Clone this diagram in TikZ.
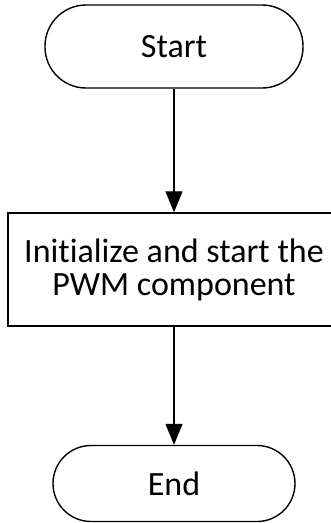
\documentclass[tikz,border=0pt]{standalone}
\usepackage{fontspec}
\setmainfont{Carlito}[Ligatures=NoCommon]
\usetikzlibrary{arrows.meta}
\begin{document}
\begin{tikzpicture}[
  terminal/.style={draw=black, line width=1.4pt, fill=white, rounded corners=#1, inner sep=0pt, font=\fontsize{34}{40}\selectfont},
  process/.style={draw=black, line width=1.4pt, fill=white, inner sep=0pt, align=center, font=\fontsize{34}{33}\selectfont},
  flow/.style={line width=1.2pt, -{Triangle[length=21pt,width=17pt]}}
]
\useasboundingbox[fill=white] (0,0) rectangle (331pt,-523pt);
\clip (0,0) rectangle (331pt,-523pt);
\node[terminal=41pt, minimum width=258pt, minimum height=83pt] (start) at (174pt,-46.5pt) {Start};
\node[process, minimum width=332pt, minimum height=113pt] (init) at (174pt,-269.5pt) {Initialize and start the\\PWM component};
\node[terminal=38pt, minimum width=242pt, minimum height=76pt] (end) at (174pt,-483.5pt) {End};
\draw[flow] (start) -- (init);
\draw[flow] (init) -- (end);
\end{tikzpicture}
\end{document}
